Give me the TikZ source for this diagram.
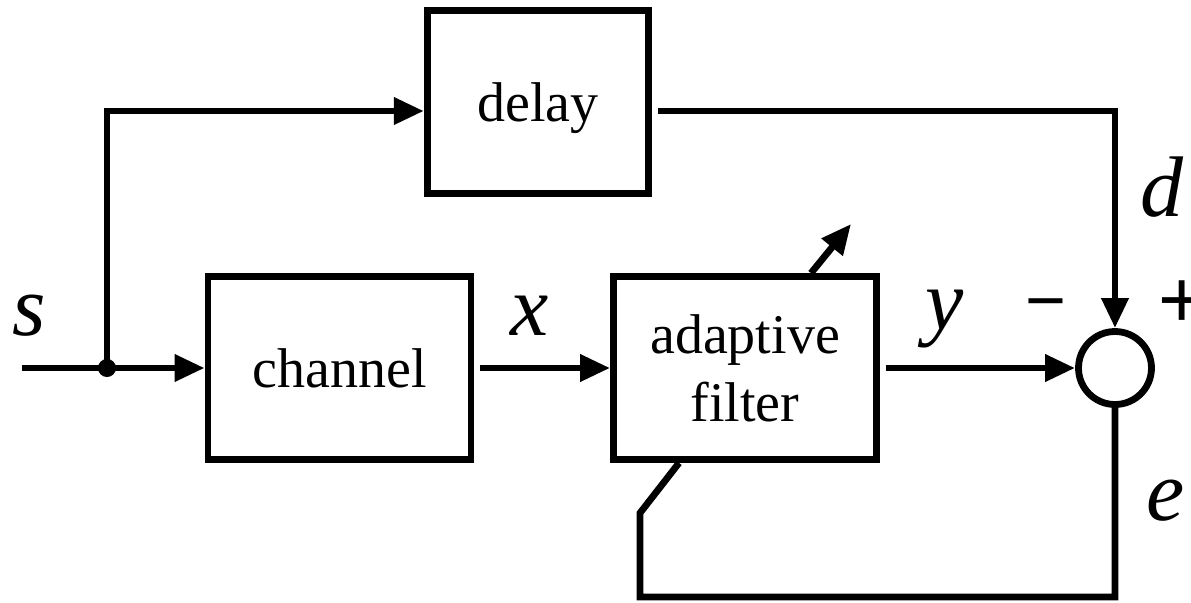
\documentclass[tikz,border=0pt]{standalone}
\usepackage{fontspec}
\setmainfont{Liberation Serif}
\newfontfamily\signfont{Liberation Sans}
\usetikzlibrary{arrows.meta,calc}

\begin{document}
\begin{tikzpicture}[x=0.5pt, y=-0.5pt, line width=3.4pt,
  blockbox/.style={draw, line width=3.4pt, inner sep=0pt, align=center,
    font=\fontsize{28}{34}\selectfont},
  sumnode/.style={draw, circle, line width=3.4pt, inner sep=0pt, minimum size=36.5pt},
  junction/.style={fill, circle, inner sep=0pt, minimum size=9pt},
  sig/.style={-{Triangle[length=15pt,width=13pt]}},
  gapped/.style={shorten <=3pt},
  varlabel/.style={font=\fontsize{43}{43}\selectfont\itshape, anchor=base, inner sep=0pt},
  signlabel/.style={anchor=base, inner sep=0pt}]

\useasboundingbox (0,0) rectangle (1191,602);

% blocks
\node[blockbox, minimum width=110.75pt, minimum height=91.75pt, text depth=0pt] (delay) at (538,102) {delay};
\node[blockbox, minimum width=131.5pt, minimum height=91.5pt] (channel) at (339.5,368) {channel};
\node[blockbox, minimum width=131.5pt, minimum height=91.5pt] (filter) at (745,368) {adaptive\\filter};
\node[sumnode] (sum) at (1115,368) {};

% branch point and free ends
\node[junction] (dot) at (107,368) {};
\coordinate (in) at (22,368);
\coordinate (adjtip) at (851,224);
\coordinate (fbcorner) at (640,597);
\coordinate (fbknee) at (640,513);

% signal paths
\draw (in) -- (dot.center);
\draw[sig] (dot.center) -- (channel.west);
\draw[sig] (dot.center) |- ([yshift=-4.5pt]delay.west);
\draw[sig, gapped] ([yshift=-4.5pt]delay.east) -| (sum.north);
\draw[sig, gapped] (channel.east) -- (filter.west);
\draw[sig, gapped] (filter.east) -- (sum.west);

% error feedback and adaptation arrow
\draw (sum.south) |- (fbcorner) -- (fbknee) -- ([xshift=-33pt]filter.south);
\draw[sig] ([xshift=33pt]filter.north) -- (adjtip);

% signal names
\node[varlabel] (ls) at (29,335) {s};
\node[varlabel] (lx) at (530,335) {x};
\node[varlabel] (ly) at (945,329) {y};
\node[varlabel] (ld) at (1162,216) {d};
\node[varlabel] (le) at (1166,520) {e};

% signs at the summing junction
\node[signlabel, font=\signfont\fontsize{35}{35}\selectfont] (minus) at (1046,324) {−};
\node[signlabel, font=\signfont\fontsize{40.5}{40.5}\selectfont] (plus) at (1182,327) {+};
\end{tikzpicture}
\end{document}
